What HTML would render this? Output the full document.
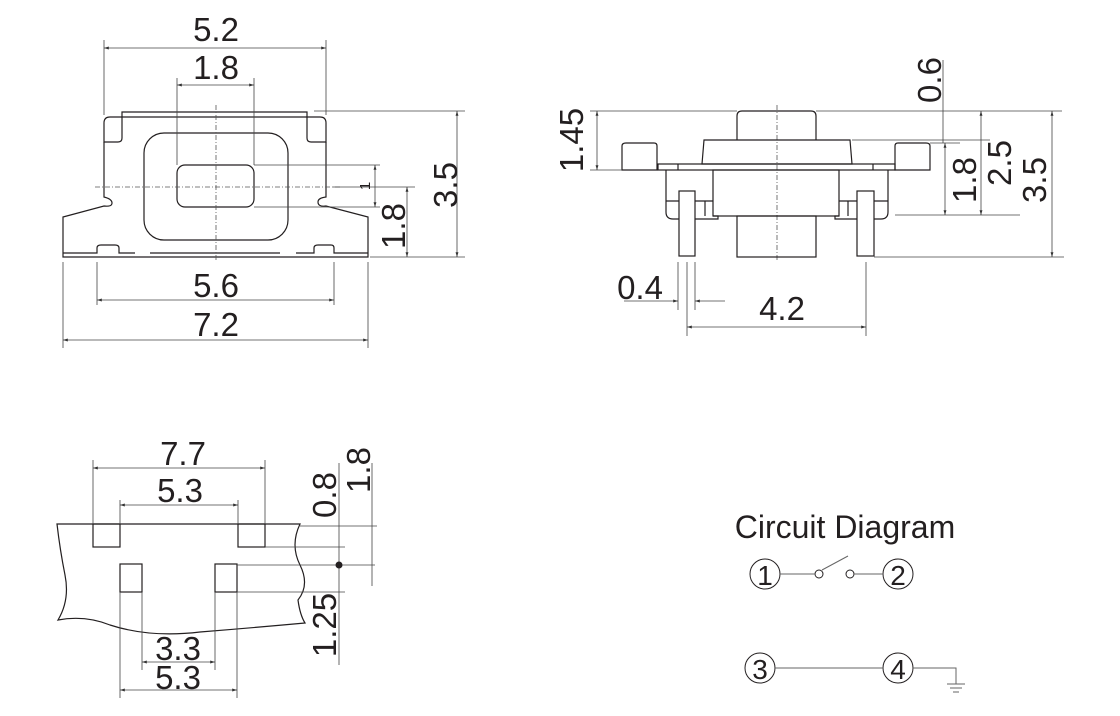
<!DOCTYPE html>
<html><head><meta charset="utf-8"><style>
html,body{margin:0;padding:0;background:#fff;}
svg{display:block;}
text{font-family:"Liberation Sans",Arial,sans-serif;fill:#231f20;}
</style></head><body>
<svg width="1120" height="716" viewBox="0 0 1120 716" xmlns="http://www.w3.org/2000/svg">
<defs>
<marker id="a" viewBox="0 0 10 10" refX="10" refY="5" markerWidth="6" markerHeight="6" orient="auto-start-reverse"><path d="M0,2 L10,5 L0,8 z" fill="#333"/></marker>
</defs>
<g fill="none" stroke="#231f20" stroke-width="1.2">
<path d="M122,112 L122,117 L307,117 L307,112 Z"/>
<path d="M110,117 L122,117 L122,138 Q122,142 118,142 L104,142 L104,123 Q104,117 110,117 Z"/>
<path d="M307,117 L320,117 Q326,117 326,123 L326,142 L311,142 Q307,142 307,138 Z"/>
<path d="M104,142 L104,197 Q112,199 112,203 Q112,207 104,206 L63,217 L63,257 L368,257 L368,217 L326,206 Q318,207 318,202 Q318,198 326,197 L326,142"/>
<path d="M63,253 L97,253 L97,248 Q97,245 101,245 L115,245 Q119,245 119,248 L119,253 L135,253 M150,253 L280,253 M296,253 L314,253 L314,248 Q314,245 318,245 L331,245 Q334,245 334,248 L334,253 L368,253"/>
<rect x="144" y="133" width="144" height="107" rx="20"/>
<rect x="177" y="165" width="77" height="42" rx="8"/>
</g>
<g stroke="#555" stroke-width="0.8" fill="none" stroke-dasharray="5,2,1,2">
<line x1="95" y1="187" x2="340" y2="187"/>
<line x1="216" y1="105" x2="216" y2="262"/>
<line x1="777" y1="105" x2="777" y2="262"/>
</g>
<g stroke="#444" stroke-width="0.8" fill="none">
<line x1="104" y1="40" x2="104" y2="115"/><line x1="326" y1="40" x2="326" y2="115"/>
<line x1="104" y1="48" x2="326" y2="48" marker-start="url(#a)" marker-end="url(#a)"/>
<line x1="177" y1="78" x2="177" y2="165"/><line x1="254" y1="78" x2="254" y2="165"/>
<line x1="177" y1="85" x2="254" y2="85" marker-start="url(#a)" marker-end="url(#a)"/>
<line x1="63" y1="262" x2="63" y2="348"/><line x1="368" y1="262" x2="368" y2="348"/>
<line x1="97" y1="262" x2="97" y2="305"/><line x1="334" y1="262" x2="334" y2="305"/>
<line x1="97" y1="300" x2="334" y2="300" marker-start="url(#a)" marker-end="url(#a)"/>
<line x1="63" y1="340" x2="368" y2="340" marker-start="url(#a)" marker-end="url(#a)"/>
<line x1="314" y1="111" x2="465" y2="111"/><line x1="370" y1="257" x2="465" y2="257"/>
<line x1="457" y1="111" x2="457" y2="257" marker-start="url(#a)" marker-end="url(#a)"/>
<line x1="254" y1="165" x2="380" y2="165"/><line x1="254" y1="207" x2="380" y2="207"/>
<line x1="375" y1="165" x2="375" y2="207" marker-start="url(#a)" marker-end="url(#a)"/>
<line x1="333" y1="187" x2="415" y2="187"/>
<line x1="407" y1="187" x2="407" y2="257" marker-start="url(#a)" marker-end="url(#a)"/>
</g>
<text x="216" y="41" font-size="33" text-anchor="middle">5.2</text>
<text x="216" y="79" font-size="33" text-anchor="middle">1.8</text>
<text x="216" y="297" font-size="33" text-anchor="middle">5.6</text>
<text x="216" y="336" font-size="33" text-anchor="middle">7.2</text>
<text transform="translate(457,185) rotate(-90)" font-size="33" text-anchor="middle">3.5</text>
<text transform="translate(405,226) rotate(-90)" font-size="33" text-anchor="middle">1.8</text>
<text transform="translate(370,186) rotate(-90)" font-size="15" text-anchor="middle">1</text>

<g fill="none" stroke="#231f20" stroke-width="1.2">
<path d="M737,140 L737,116 Q737,111 742,111 L811,111 Q816,111 816,116 L816,140"/>
<path d="M704,140 L850,140 L852,164 L702,164 Z"/>
<rect x="658" y="164" width="237" height="6"/>
<path d="M657,170 L622,170 L622,146 Q622,143 626,143 L654,143 Q657,143 657,146 Z"/>
<path d="M895,170 L930,170 L930,146 Q930,143 926,143 L898,143 Q895,143 895,146 Z"/>
<line x1="678" y1="164" x2="678" y2="170"/><line x1="873" y1="164" x2="873" y2="170"/>
<rect x="713" y="170" width="126" height="46"/>
<path d="M666,170 L666,212 Q666,219 673,219 L718,219 L718,216 L713,216"/>
<path d="M888,170 L888,212 Q888,219 881,219 L835,219 L835,216 L839,216"/>
<line x1="666" y1="201" x2="713" y2="201"/><line x1="839" y1="201" x2="888" y2="201"/>
<line x1="705" y1="201" x2="705" y2="216"/><line x1="848" y1="201" x2="848" y2="216"/>
<rect x="737" y="216" width="79" height="41"/>
<rect x="679" y="191" width="16" height="65" fill="#fff"/>
<rect x="857" y="191" width="17" height="65" fill="#fff"/>
</g>
<g stroke="#444" stroke-width="0.8" fill="none">
<line x1="590" y1="111" x2="737" y2="111"/><line x1="590" y1="170" x2="622" y2="170"/>
<line x1="597" y1="111" x2="597" y2="170" marker-start="url(#a)" marker-end="url(#a)"/>
<line x1="816" y1="111" x2="1062" y2="111"/>
<line x1="852" y1="140" x2="990" y2="140"/>
<line x1="930" y1="143" x2="960" y2="143"/>
<line x1="943" y1="60" x2="943" y2="143"/>
<line x1="895" y1="215" x2="1020" y2="215"/>
<line x1="874" y1="257" x2="1064" y2="257"/>
<line x1="945" y1="143" x2="945" y2="215" marker-start="url(#a)" marker-end="url(#a)"/>
<line x1="981" y1="111" x2="981" y2="215" marker-start="url(#a)" marker-end="url(#a)"/>
<line x1="1052" y1="111" x2="1052" y2="257" marker-start="url(#a)" marker-end="url(#a)"/>
<line x1="678" y1="262" x2="678" y2="310"/><line x1="695" y1="262" x2="695" y2="310"/>
<line x1="624" y1="301" x2="678" y2="301" marker-end="url(#a)"/><line x1="725" y1="301" x2="695" y2="301" marker-end="url(#a)"/>
<line x1="687" y1="262" x2="687" y2="336"/><line x1="866" y1="262" x2="866" y2="336"/>
<line x1="687" y1="327" x2="866" y2="327" marker-start="url(#a)" marker-end="url(#a)"/>
</g>
<text transform="translate(583,140) rotate(-90)" font-size="33" text-anchor="middle">1.45</text>
<text transform="translate(941,80) rotate(-90)" font-size="33" text-anchor="middle">0.6</text>
<text transform="translate(976,180) rotate(-90)" font-size="33" text-anchor="middle">1.8</text>
<text transform="translate(1011,163) rotate(-90)" font-size="33" text-anchor="middle">2.5</text>
<text transform="translate(1046,180) rotate(-90)" font-size="33" text-anchor="middle">3.5</text>
<text x="640" y="299" font-size="33" text-anchor="middle">0.4</text>
<text x="782" y="320" font-size="33" text-anchor="middle">4.2</text>

<g fill="none" stroke="#231f20" stroke-width="1.2">
<path d="M57,524 L300,524 Q290,545 300,565 Q310,585 298,600 Q300,615 305,623 Q250,628 200,632 Q150,638 110,625 Q85,615 58,620 Q70,600 65,575 Q60,550 57,524 Z"/>
<rect x="93" y="524" width="27" height="23"/>
<rect x="238" y="524" width="27" height="23"/>
<rect x="120" y="564" width="22" height="28"/>
<rect x="215" y="564" width="22" height="28"/>
</g>
<g stroke="#444" stroke-width="0.8" fill="none">
<line x1="93" y1="460" x2="93" y2="524"/><line x1="265" y1="460" x2="265" y2="524"/>
<line x1="93" y1="468" x2="265" y2="468" marker-start="url(#a)" marker-end="url(#a)"/>
<line x1="120" y1="500" x2="120" y2="524"/><line x1="238" y1="500" x2="238" y2="524"/>
<line x1="120" y1="505" x2="238" y2="505" marker-start="url(#a)" marker-end="url(#a)"/>
<line x1="120" y1="592" x2="120" y2="698"/><line x1="237" y1="592" x2="237" y2="698"/>
<line x1="142" y1="592" x2="142" y2="670"/><line x1="215" y1="592" x2="215" y2="670"/>
<line x1="142" y1="662" x2="215" y2="662" marker-start="url(#a)" marker-end="url(#a)"/>
<line x1="120" y1="690" x2="237" y2="690" marker-start="url(#a)" marker-end="url(#a)"/>
<line x1="300" y1="526" x2="377" y2="526"/>
<line x1="265" y1="547" x2="345" y2="547"/>
<line x1="237" y1="565" x2="375" y2="565"/>
<line x1="237" y1="592" x2="345" y2="592"/>
<line x1="339" y1="463" x2="339" y2="665"/>
<line x1="372" y1="463" x2="372" y2="586"/>
</g>
<circle cx="339" cy="565" r="3.5" fill="#231f20"/>
<text x="183" y="465" font-size="33" text-anchor="middle">7.7</text>
<text x="180" y="502" font-size="33" text-anchor="middle">5.3</text>
<text x="178" y="660" font-size="33" text-anchor="middle">3.3</text>
<text x="178" y="689" font-size="33" text-anchor="middle">5.3</text>
<text transform="translate(336,495) rotate(-90)" font-size="33" text-anchor="middle">0.8</text>
<text transform="translate(370,470) rotate(-90)" font-size="33" text-anchor="middle">1.8</text>
<text transform="translate(336,625) rotate(-90)" font-size="33" text-anchor="middle">1.25</text>

<text x="845" y="538" font-size="32" text-anchor="middle">Circuit Diagram</text>
<g fill="none" stroke="#231f20" stroke-width="1">
<circle cx="765" cy="574" r="15"/><circle cx="898" cy="574" r="15"/>
<circle cx="760" cy="668" r="15"/><circle cx="898" cy="668" r="15"/>
<circle cx="819" cy="574" r="4"/><circle cx="850" cy="574" r="4"/>
</g>
<g fill="none" stroke="#666" stroke-width="1">
<line x1="780" y1="574" x2="815" y2="574"/>
<line x1="822" y1="570" x2="848" y2="556"/>
<line x1="854" y1="574" x2="883" y2="574"/>
<line x1="775" y1="668" x2="883" y2="668"/>
<polyline points="913,668 956,668 956,684"/>
<line x1="947" y1="684" x2="965" y2="684"/>
<line x1="950" y1="688" x2="962" y2="688"/>
<line x1="953" y1="692" x2="959" y2="692"/>
</g>
<text x="765" y="585" font-size="28" text-anchor="middle">1</text>
<text x="898" y="585" font-size="28" text-anchor="middle">2</text>
<text x="760" y="679" font-size="28" text-anchor="middle">3</text>
<text x="898" y="679" font-size="28" text-anchor="middle">4</text>
</svg>
</body></html>
